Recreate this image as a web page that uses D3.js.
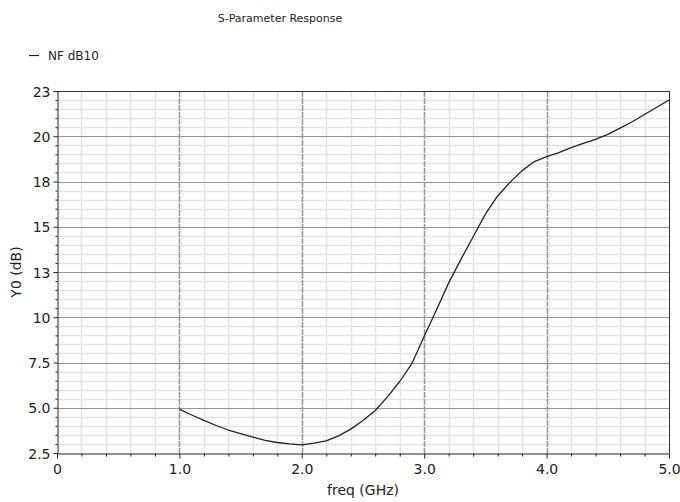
<!DOCTYPE html>
<html>
<head>
<meta charset="utf-8">
<script src="https://cdn.jsdelivr.net/npm/d3@7"></script>
<style>
  html, body { margin: 0; padding: 0; background: #fff; }
  svg { display: block; }
  text { font-family: "DejaVu Sans", sans-serif; fill: #222; }
</style>
</head>
<body>
<svg id="chart" width="680" height="502"></svg>
<script>
// ---- Data ----
const chartTitle = "S-Parameter Response";
const seriesName = "NF dB10";
const xTitle = "freq (GHz)";
const yTitle = "Y0 (dB)";

const freq = [1.0,1.1,1.2,1.3,1.4,1.5,1.6,1.7,1.8,1.9,2.0,2.1,2.2,2.3,2.4,2.5,2.6,2.7,2.8,2.9,
              3.0,3.1,3.2,3.3,3.4,3.5,3.6,3.7,3.8,3.9,4.0,4.1,4.2,4.3,4.4,4.5,4.6,4.7,4.8,4.9,5.0];
const nf   = [4.92,4.60,4.30,4.02,3.77,3.57,3.38,3.20,3.08,3.00,2.95,3.05,3.17,3.45,3.82,4.30,4.85,5.60,6.45,7.45,
              8.95,10.40,11.90,13.20,14.45,15.70,16.70,17.45,18.10,18.60,18.87,19.10,19.37,19.60,19.83,20.10,20.45,20.80,21.20,21.60,22.00];

const xDomain = [0, 5];
const yDomain = [2.5, 22.5];
const xTickValues = [0, 1, 2, 3, 4, 5];
const xTickLabels = ["0", "1.0", "2.0", "3.0", "4.0", "5.0"];
const yTickValues = [2.5, 5, 7.5, 10, 12.5, 15, 17.5, 20, 22.5];
const yTickLabels = ["2.5", "5.0", "7.5", "10", "13", "15", "18", "20", "23"];
const xMinorStep = 0.2;
const yMinorStep = 0.5;

// ---- Layout ----
const svg = d3.select("#chart");
const L = 57, R = 669, T = 91, B = 453;

const x = d3.scaleLinear().domain(xDomain).range([L, R]);
const y = d3.scaleLinear().domain(yDomain).range([B, T]);

const xMinor = d3.range(xDomain[0], xDomain[1] + 1e-9, xMinorStep)
  .filter(v => xTickValues.every(t => Math.abs(t - v) > 1e-6));
const yMinor = d3.range(yDomain[0], yDomain[1] + 1e-9, yMinorStep)
  .filter(v => yTickValues.every(t => Math.abs(t - v) > 1e-6));

// Minor grid
const g = svg.append("g");
g.selectAll("line.xmin").data(xMinor).join("line")
  .attr("x1", d => Math.round(x(d)) + 0.5).attr("x2", d => Math.round(x(d)) + 0.5)
  .attr("y1", T).attr("y2", B)
  .attr("stroke", "#e3e3e3").attr("stroke-width", 1.5);
g.selectAll("line.ymin").data(yMinor).join("line")
  .attr("y1", d => Math.round(y(d)) + 0.5).attr("y2", d => Math.round(y(d)) + 0.5)
  .attr("x1", L).attr("x2", R)
  .attr("stroke", "#e3e3e3").attr("stroke-width", 1.5);

// Major grid
g.selectAll("line.ymaj").data(yTickValues.slice(1, -1)).join("line")
  .attr("y1", d => Math.round(y(d)) + 0.5).attr("y2", d => Math.round(y(d)) + 0.5)
  .attr("x1", L).attr("x2", R)
  .attr("stroke", "#969696").attr("stroke-width", 1);
g.selectAll("line.xmaj").data(xTickValues.slice(1, -1)).join("line")
  .attr("x1", d => Math.round(x(d)) + 0.5).attr("x2", d => Math.round(x(d)) + 0.5)
  .attr("y1", T).attr("y2", B)
  .attr("stroke", "#9a9a9a").attr("stroke-width", 1.6)
  .attr("stroke-dasharray", "6,1");

// Frame top/right
svg.append("line").attr("x1", L).attr("x2", R).attr("y1", T + 0.5).attr("y2", T + 0.5)
  .attr("stroke", "#333").attr("stroke-width", 1);
svg.append("line").attr("x1", R + 0.5).attr("x2", R + 0.5).attr("y1", T).attr("y2", B)
  .attr("stroke", "#333").attr("stroke-width", 1);

// Axes
const fontAxis = "14px";
const yAxisG = svg.append("g").attr("transform", `translate(${L + 0.5},0)`)
  .call(d3.axisLeft(y).tickValues(yTickValues).tickSize(4).tickPadding(3)
    .tickFormat((d, i) => yTickLabels[i]));
const yMinorG = svg.append("g").attr("transform", `translate(${L + 0.5},0)`)
  .call(d3.axisLeft(y).tickValues(yMinor).tickSize(2).tickFormat(""));
const xAxisG = svg.append("g").attr("transform", `translate(0,${B + 0.5})`)
  .call(d3.axisBottom(x).tickValues(xTickValues).tickSize(5).tickPadding(6)
    .tickFormat((d, i) => xTickLabels[i]));
const xMinorG = svg.append("g").attr("transform", `translate(0,${B + 0.5})`)
  .call(d3.axisBottom(x).tickValues(xMinor).tickSize(3).tickFormat(""));

[yAxisG, yMinorG, xAxisG, xMinorG].forEach(a => {
  a.select(".domain").attr("stroke", "#222");
  a.selectAll(".tick line").attr("stroke", "#222");
  a.selectAll("text").style("font-family", "DejaVu Sans, sans-serif")
    .style("font-size", fontAxis).attr("fill", "#333");
});
yMinorG.select(".domain").remove();
xMinorG.select(".domain").remove();
yAxisG.selectAll("text").attr("dy", "0.36em");

// Curve
const data = freq.map((f, i) => ({ f, v: nf[i] }));
svg.append("path").datum(data)
  .attr("fill", "none").attr("stroke", "#222").attr("stroke-width", 1.3)
  .attr("stroke-linejoin", "round")
  .attr("d", d3.line().x(d => x(d.f)).y(d => y(d.v)));

// Title
svg.append("text").attr("x", 280).attr("y", 22).attr("text-anchor", "middle")
  .style("font-size", "11px").attr("fill", "#222").text(chartTitle);

// Legend
svg.append("line").attr("x1", 29).attr("x2", 39).attr("y1", 55.5).attr("y2", 55.5)
  .attr("stroke", "#222").attr("stroke-width", 1.2);
svg.append("text").attr("x", 48).attr("y", 59.5)
  .style("font-size", "12px").attr("fill", "#222").text(seriesName);

// Axis titles
svg.append("text").attr("x", (L + R) / 2).attr("y", 495).attr("text-anchor", "middle")
  .style("font-size", "14px").attr("fill", "#333").text(xTitle);
svg.append("text").attr("transform", "translate(21,272) rotate(-90)")
  .attr("text-anchor", "middle")
  .style("font-size", "14px").attr("fill", "#333").text(yTitle);
</script>
</body>
</html>
